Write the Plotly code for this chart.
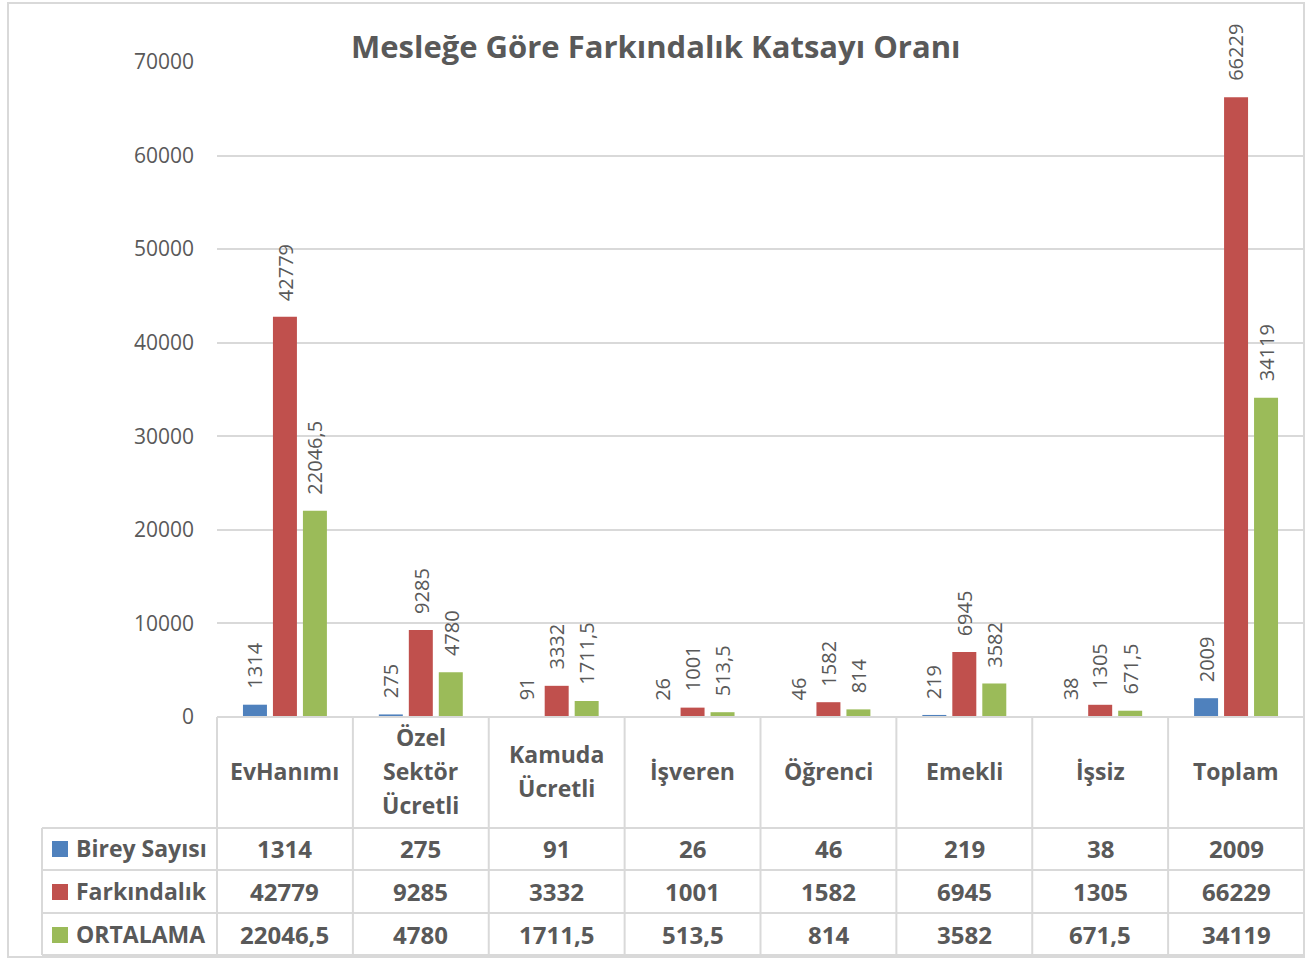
import plotly.graph_objects as go

W, H = 1308, 959

categories = ["EvHanımı", "Özel Sektör Ücretli", "Kamuda Ücretli", "İşveren",
              "Öğrenci", "Emekli", "İşsiz", "Toplam"]
header_lines = [["EvHanımı"], ["Özel", "Sektör", "Ücretli"], ["Kamuda", "Ücretli"],
                ["İşveren"], ["Öğrenci"], ["Emekli"], ["İşsiz"], ["Toplam"]]
series_names = ["Birey Sayısı", "Farkındalık", "ORTALAMA"]
birey = [1314, 275, 91, 26, 46, 219, 38, 2009]
farkindalik = [42779, 9285, 3332, 1001, 1582, 6945, 1305, 66229]
ortalama = [22046.5, 4780, 1711.5, 513.5, 814, 3582, 671.5, 34119]
y_ticks = [0, 10000, 20000, 30000, 40000, 50000, 60000, 70000]

colors = ["#4F81BD", "#C0504D", "#9BBB59"]
TXT = "#595959"
GRID = "#D9D9D9"
FONT = "Open Sans"

series = [birey, farkindalik, ortalama]


def fmt(v):
    if float(v).is_integer():
        return str(int(v))
    return str(v).replace(".", ",")


def px(x):
    return x / W


def py(y):
    return 1 - y / H


# plot area (pixels)
X0, X1 = 217, 1304
Y_TOP, Y_BOT = 62, 717

fig = go.Figure()
for name, vals, c in zip(series_names, series, colors):
    fig.add_trace(go.Bar(x=categories, y=vals, name=name, marker_color=c,
                         marker_line_width=0, showlegend=False))

annotations = []
# data labels
for i, (vals, c) in enumerate(zip(series, colors)):
    for cat, v in zip(categories, vals):
        annotations.append(dict(x=cat, y=v, xref="x", yref="y", text=fmt(v),
                                textangle=-90, showarrow=False, xanchor="center",
                                yanchor="bottom", xshift=(i - 1) * 30, yshift=14,
                                font=dict(family=FONT, size=20, color=TXT)))

# title
annotations.append(dict(x=px(656), y=py(46), xref="paper", yref="paper",
                        text="<b>Mesleğe Göre Farkındalık Katsayı Oranı</b>",
                        showarrow=False, xanchor="center", yanchor="middle",
                        font=dict(family=FONT, size=31, color=TXT)))

col_w = (X1 - X0) / len(categories)
# header row
LINE_H = 34
for j, lines in enumerate(header_lines):
    cx = X0 + col_w * (j + 0.5)
    n = len(lines)
    for k, ln in enumerate(lines):
        cy = 771 + (k - (n - 1) / 2) * LINE_H
        annotations.append(dict(x=px(cx), y=py(cy), xref="paper", yref="paper",
                                text="<b>" + ln + "</b>", showarrow=False,
                                xanchor="center", yanchor="middle",
                                font=dict(family=FONT, size=23, color=TXT)))

row_centers = [848, 891, 934]
for r, (name, vals, c) in enumerate(zip(series_names, series, colors)):
    cy = row_centers[r]
    annotations.append(dict(x=px(74), y=py(cy), xref="paper", yref="paper",
                            text="<b>" + name + "</b>", showarrow=False,
                            xanchor="left", yanchor="middle",
                            font=dict(family=FONT, size=23, color=TXT)))
    for j, v in enumerate(vals):
        cx = X0 + col_w * (j + 0.5)
        annotations.append(dict(x=px(cx), y=py(cy), xref="paper", yref="paper",
                                text="<b>" + fmt(v) + "</b>", showarrow=False,
                                xanchor="center", yanchor="middle",
                                font=dict(family=FONT, size=24, color=TXT)))

shapes = []


def hline(x0, x1, y, color=GRID, w=2):
    shapes.append(dict(type="line", xref="paper", yref="paper", x0=px(x0), x1=px(x1),
                       y0=py(y), y1=py(y), line=dict(color=color, width=w)))


def vline(x, y0, y1, color=GRID, w=2):
    shapes.append(dict(type="line", xref="paper", yref="paper", x0=px(x), x1=px(x),
                       y0=py(y0), y1=py(y1), line=dict(color=color, width=w)))


# outer border
shapes.append(dict(type="rect", xref="paper", yref="paper", x0=px(8), x1=px(1304),
                   y0=py(957), y1=py(3), line=dict(color=GRID, width=2)))
# table
hline(X0, X1, Y_BOT)
for yy in [828, 870, 913, 955]:
    hline(42, X1, yy)
vline(42, 828, 955)
for j in range(len(categories) + 1):
    vline(X0 + col_w * j, Y_BOT, 955)
# legend squares
for r, c in enumerate(colors):
    cy = row_centers[r] + 1
    shapes.append(dict(type="rect", xref="paper", yref="paper", x0=px(52), x1=px(68),
                       y0=py(cy + 8), y1=py(cy - 8), fillcolor=c, line=dict(width=0)))

fig.update_layout(
    width=W, height=H,
    margin=dict(l=0, r=0, t=0, b=0, autoexpand=False),
    paper_bgcolor="white", plot_bgcolor="white",
    barmode="group", bargap=0.338, bargroupgap=0.2,
    annotations=annotations, shapes=shapes,
    xaxis=dict(domain=[px(X0), px(X1)], showticklabels=False, showgrid=False,
               zeroline=False, showline=False, ticks="", automargin=False),
    yaxis=dict(domain=[py(Y_BOT), py(Y_TOP)], range=[0, 70000], tickvals=y_ticks,
               tickformat="d", automargin=False,
               showgrid=True, gridcolor=GRID, gridwidth=2, zeroline=False,
               showline=False, ticks="", ticklabelstandoff=22,
               tickfont=dict(family=FONT, size=21, color=TXT)),
    font=dict(family=FONT, color=TXT),
)

fig.write_html("out.html", config={"displayModeBar": False},
               post_script="document.body.style.margin='0';")
